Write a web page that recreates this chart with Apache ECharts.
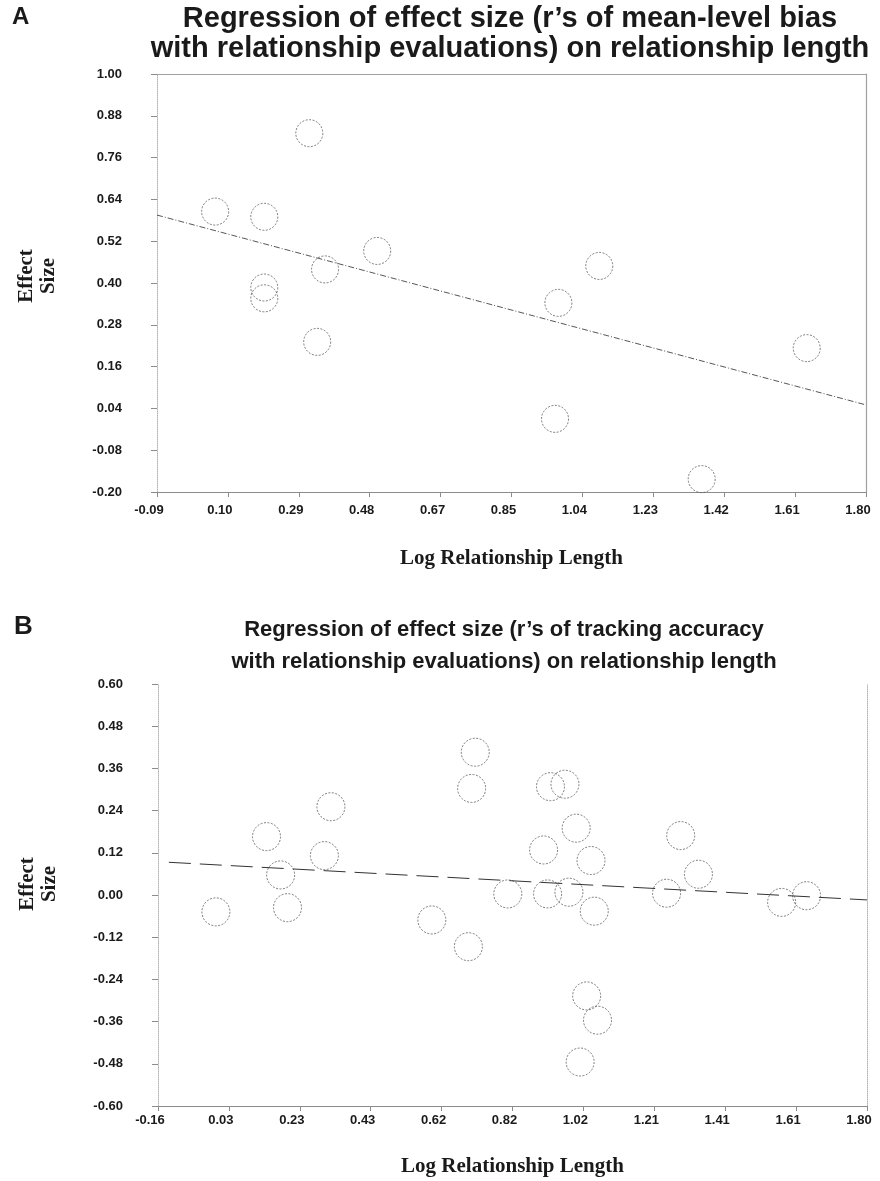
<!DOCTYPE html>
<html>
<head>
<meta charset="utf-8">
<script src="https://cdn.jsdelivr.net/npm/echarts@6/dist/echarts.min.js"></script>
<style>
  html, body { margin: 0; background: #fff; }
  #chart { width: 880px; height: 1181px; }
</style>
</head>
<body>
<div id="chart"></div>
<script>
// --- panel A : mean-level bias ---
const xTicksA = ['-0.09', '0.10', '0.29', '0.48', '0.67', '0.85', '1.04', '1.23', '1.42', '1.61', '1.80'];
const yTicksA = ['-0.20', '-0.08', '0.04', '0.16', '0.28', '0.40', '0.52', '0.64', '0.76', '0.88', '1.00'];
const pointsA = [
  [0.065, 0.605], [0.196, 0.590], [0.196, 0.387], [0.196, 0.356], [0.316, 0.830],
  [0.337, 0.231], [0.358, 0.439], [0.497, 0.492], [0.971, 0.010], [0.980, 0.343],
  [1.089, 0.449], [1.362, -0.163], [1.642, 0.213]
];
const fitA = [[-0.09, 0.595], [1.80, 0.050]];

// --- panel B : tracking accuracy ---
const xTicksB = ['-0.16', '0.03', '0.23', '0.43', '0.62', '0.82', '1.02', '1.21', '1.41', '1.61', '1.80'];
const yTicksB = ['-0.60', '-0.48', '-0.36', '-0.24', '-0.12', '0.00', '0.12', '0.24', '0.36', '0.48', '0.60'];
const pointsB = [
  [0.000, -0.048], [0.140, 0.166], [0.179, 0.057], [0.198, -0.036], [0.300, 0.112],
  [0.318, 0.251], [0.597, -0.071], [0.698, -0.147], [0.707, 0.303], [0.717, 0.406],
  [0.807, 0.003], [0.906, 0.128], [0.917, 0.003], [0.925, 0.308], [0.965, 0.315],
  [0.976, 0.008], [0.996, 0.190], [1.037, 0.098], [1.046, -0.046], [1.025, -0.287],
  [1.055, -0.356], [1.007, -0.475], [1.246, 0.005], [1.285, 0.169], [1.334, 0.059],
  [1.564, -0.021], [1.633, -0.002]
];
const fitB = [[-0.13, 0.093], [1.80, -0.014]];

const tickFont = { fontFamily: 'Liberation Sans, Arial, sans-serif', fontWeight: 'bold', fontSize: 13, color: '#1a1a1a' };
const nameFont = { fontFamily: 'Liberation Serif, Times New Roman, serif', fontWeight: 'bold', fontSize: 21, color: '#1a1a1a', lineHeight: 22 };

function axesFor(gi, xTicks, yTicks, opt) {
  const xMin = parseFloat(xTicks[0]), xMax = parseFloat(xTicks[xTicks.length - 1]);
  const yMin = parseFloat(yTicks[0]), yMax = parseFloat(yTicks[yTicks.length - 1]);
  const hidden = { axisTick: { show: false }, axisLabel: { show: false }, splitLine: { show: false } };
  const x = [
    // data axis
    Object.assign({
      gridIndex: gi, type: 'value', min: xMin, max: xMax, position: 'bottom',
      axisLine: { onZero: false, lineStyle: { color: '#8c8c8c', width: 1 } },
      name: 'Log Relationship Length', nameLocation: 'middle', nameGap: opt.xNameGap, nameTextStyle: nameFont
    }, hidden),
    // tick labels
    {
      gridIndex: gi, type: 'category', data: xTicks, boundaryGap: false, position: 'bottom',
      axisLine: { show: false, onZero: false },
      axisTick: { show: true, interval: 0, length: 5, lineStyle: { color: '#8c8c8c' } },
      axisLabel: Object.assign({ interval: 0, margin: opt.xMargin, padding: [0, 16, 0, 0] }, tickFont),
      splitLine: { show: false }
    }
  ];
  const y = [
    Object.assign({
      gridIndex: gi, type: 'value', min: yMin, max: yMax, position: 'left',
      axisLine: { onZero: false, lineStyle: { color: '#b5b5b5', type: 'dotted', width: 1 } },
      name: 'Effect\nSize', nameLocation: 'middle', nameRotate: 90, nameGap: 97,
      nameTextStyle: Object.assign({ padding: [0, 0, 0, opt.yNameLift] }, nameFont)
    }, hidden),
    {
      gridIndex: gi, type: 'category', data: yTicks, boundaryGap: false, position: 'left',
      axisLine: { show: false, onZero: false },
      axisTick: { show: true, interval: 0, length: 6, lineStyle: { color: '#8c8c8c' } },
      axisLabel: Object.assign({ interval: 0, margin: 35 }, tickFont),
      splitLine: { show: false }
    },
    // right border
    Object.assign({
      gridIndex: gi, type: 'value', min: yMin, max: yMax, position: 'right',
      axisLine: { show: true, onZero: false, lineStyle: opt.rightLine }
    }, hidden)
  ];
  if (opt.top) {
    x.push(Object.assign({
      gridIndex: gi, type: 'value', min: xMin, max: xMax, position: 'top',
      axisLine: { show: true, onZero: false, lineStyle: { color: '#a0a0a0', width: 1.2 } }
    }, hidden));
  }
  return { x, y };
}

const axA = axesFor(0, xTicksA, yTicksA, { xNameGap: 56, xMargin: 12, yNameLift: 14, top: true, rightLine: { color: '#a0a0a0', width: 1.2 } });
const axB = axesFor(1, xTicksB, yTicksB, { xNameGap: 50, xMargin: 8, yNameLift: 22, top: false, rightLine: { color: '#b5b5b5', type: 'dotted', width: 1 } });
const xAxes = axA.x.concat(axB.x);
const yAxes = axA.y.concat(axB.y);
const xIdxB = axA.x.length, yIdxB = axA.y.length;

const circle = {
  type: 'scatter', symbol: 'circle', symbolSize: 27,
  itemStyle: { color: 'rgba(0,0,0,0)', borderColor: '#4a4a4a', borderWidth: 0.9, borderType: [2, 1.5] },
  emphasis: { disabled: true }
};

const chart = echarts.init(document.getElementById('chart'), null, { renderer: 'canvas' });
chart.setOption({
  animation: false,
  backgroundColor: '#fff',
  grid: [
    { left: 157, top: 74, width: 709, height: 418 },
    { left: 158, top: 684, width: 709, height: 422 }
  ],
  xAxis: xAxes,
  yAxis: yAxes,
  graphic: [
    { type: 'text', left: 12, top: 5, style: { text: 'A', font: 'bold 24px "Liberation Sans", Arial, sans-serif', fill: '#1a1a1a' } },
    { type: 'text', x: 510, y: 4, style: {
        text: 'Regression of effect size (r\u2019s of mean-level bias\nwith relationship evaluations) on relationship length',
        textAlign: 'center', font: 'bold 29px "Liberation Sans Narrow", "Arial Narrow", "Liberation Sans", sans-serif', lineHeight: 30, fill: '#1a1a1a' } },
    { type: 'text', left: 14, top: 614, style: { text: 'B', font: 'bold 26px "Liberation Sans", Arial, sans-serif', fill: '#1a1a1a' } },
    { type: 'text', x: 504, y: 614, style: {
        text: 'Regression of effect size (r\u2019s of tracking accuracy\nwith relationship evaluations) on relationship length',
        textAlign: 'center', font: 'bold 22px "Liberation Sans", Arial, sans-serif', lineHeight: 32, fill: '#1a1a1a' } }
  ],
  series: [
    Object.assign({}, circle, { name: 'A', xAxisIndex: 0, yAxisIndex: 0, data: pointsA }),
    {
      type: 'line', xAxisIndex: 0, yAxisIndex: 0, data: fitA, symbol: 'none', silent: true,
      lineStyle: { color: '#444', width: 0.9, type: [6, 2, 1, 2] }
    },
    Object.assign({}, circle, { name: 'B', xAxisIndex: xIdxB, yAxisIndex: yIdxB, symbolSize: 28, data: pointsB }),
    {
      type: 'line', xAxisIndex: xIdxB, yAxisIndex: yIdxB, data: fitB, symbol: 'none', silent: true,
      lineStyle: { color: '#333', width: 1, type: [22, 9] }
    }
  ]
});
</script>
</body>
</html>
